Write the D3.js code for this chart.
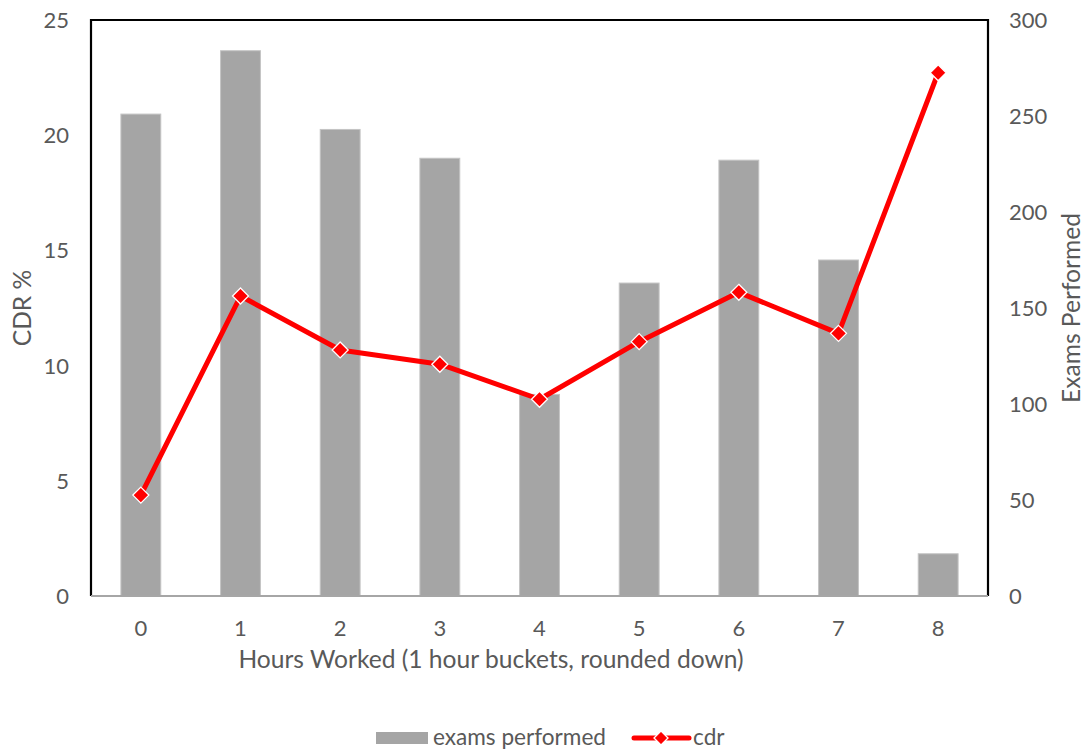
<!DOCTYPE html>
<html>
<head>
<meta charset="utf-8">
<script src="https://cdn.jsdelivr.net/npm/d3@7"></script>
<style>
  html, body { margin: 0; padding: 0; background: #fff; }
  svg { display: block; }
  text { font-family: Lato, "Open Sans", sans-serif; fill: #595959; }
</style>
</head>
<body>
<svg id="chart" width="1086" height="749"></svg>
<script>
// ---- data ----
const categories = ["0", "1", "2", "3", "4", "5", "6", "7", "8"];
const examsPerformed = [251, 284, 243, 228, 105, 163, 227, 175, 22];
const cdr = [4.38, 13.02, 10.68, 10.06, 8.54, 11.04, 13.18, 11.40, 22.71];
const leftTicks = [0, 5, 10, 15, 20, 25];
const rightTicks = [0, 50, 100, 150, 200, 250, 300];
const seriesNames = ["exams performed", "cdr"];
const axisTitles = { x: "Hours Worked (1 hour buckets, rounded down)", yLeft: "CDR %", yRight: "Exams Performed" };

// ---- layout ----
const W = 1086, H = 749;
const plot = { left: 91, right: 988, top: 20, bottom: 596 };
const fontSize = 22;
const titleSize = 24.6;
const legendSize = 22.6;
const gray = "#a5a5a5";
const red = "#ff0000";

const svg = d3.select("#chart");

const x = d3.scaleBand().domain(categories).range([plot.left, plot.right])
  .paddingInner(0.6).paddingOuter(0.3);
const yL = d3.scaleLinear().domain([0, 25]).range([plot.bottom, plot.top]);
const yR = d3.scaleLinear().domain([0, 300]).range([plot.bottom, plot.top]);

// bars
svg.append("g").selectAll("rect").data(examsPerformed).join("rect")
  .attr("x", (d, i) => x(categories[i]))
  .attr("y", d => yR(d))
  .attr("width", x.bandwidth())
  .attr("height", d => yR(0) - yR(d))
  .attr("fill", gray)
  .attr("stroke", "#c4c4c4")
  .attr("stroke-width", 1);

// frame: left, top, right black; bottom gray axis
svg.append("path")
  .attr("d", `M${plot.left},${plot.bottom}V${plot.top}H${plot.right}V${plot.bottom}`)
  .attr("fill", "none").attr("stroke", "#000").attr("stroke-width", 2.2);
svg.append("line")
  .attr("x1", plot.left).attr("x2", plot.right)
  .attr("y1", plot.bottom).attr("y2", plot.bottom)
  .attr("stroke", "#a6a6a6").attr("stroke-width", 2);

// line
const cx = i => x(categories[i]) + x.bandwidth() / 2;
const line = d3.line().x((d, i) => cx(i)).y(d => yL(d));
svg.append("path").datum(cdr)
  .attr("d", line)
  .attr("fill", "none").attr("stroke", red).attr("stroke-width", 5)
  .attr("stroke-linejoin", "round");

const diamond = (px, py, r) => `M${px},${py - r}L${px + r},${py}L${px},${py + r}L${px - r},${py}Z`;
svg.append("g").selectAll("path").data(cdr).join("path")
  .attr("d", (d, i) => diamond(cx(i), yL(d), 8))
  .attr("fill", red).attr("stroke", "#fff").attr("stroke-width", 1.3);

// left axis labels
svg.append("g").selectAll("text").data(leftTicks).join("text")
  .attr("x", 69).attr("y", d => yL(d)).attr("dy", "0.36em")
  .attr("text-anchor", "end").attr("font-size", fontSize)
  .text(d => d);

// right axis labels
svg.append("g").selectAll("text").data(rightTicks).join("text")
  .attr("x", 1009).attr("y", d => yR(d)).attr("dy", "0.36em")
  .attr("text-anchor", "start").attr("font-size", fontSize)
  .text(d => d);

// x labels
svg.append("g").selectAll("text").data(categories).join("text")
  .attr("x", d => x(d) + x.bandwidth() / 2).attr("y", 636)
  .attr("text-anchor", "middle").attr("font-size", fontSize)
  .text(d => d);

// axis titles
svg.append("text").attr("x", 491).attr("y", 668)
  .attr("text-anchor", "middle").attr("font-size", titleSize)
  .text(axisTitles.x);
svg.append("text")
  .attr("transform", `translate(31,${(plot.top + plot.bottom) / 2}) rotate(-90)`)
  .attr("text-anchor", "middle").attr("font-size", titleSize)
  .text(axisTitles.yLeft);
svg.append("text")
  .attr("transform", `translate(1080,${(plot.top + plot.bottom) / 2}) rotate(-90)`)
  .attr("text-anchor", "middle").attr("font-size", titleSize)
  .text(axisTitles.yRight);

// legend
const lg = svg.append("g");
lg.append("rect").attr("x", 376).attr("y", 732).attr("width", 52).attr("height", 12).attr("fill", gray);
lg.append("text").attr("x", 433).attr("y", 745).attr("font-size", legendSize).text(seriesNames[0]);
lg.append("line").attr("x1", 634).attr("x2", 689).attr("y1", 738).attr("y2", 738)
  .attr("stroke", red).attr("stroke-width", 5).attr("stroke-linecap", "round");
lg.append("path").attr("d", diamond(661, 738, 7))
  .attr("fill", red).attr("stroke", "#fff").attr("stroke-width", 1.3);
lg.append("text").attr("x", 693).attr("y", 745).attr("font-size", legendSize).text(seriesNames[1]);
</script>
</body>
</html>
